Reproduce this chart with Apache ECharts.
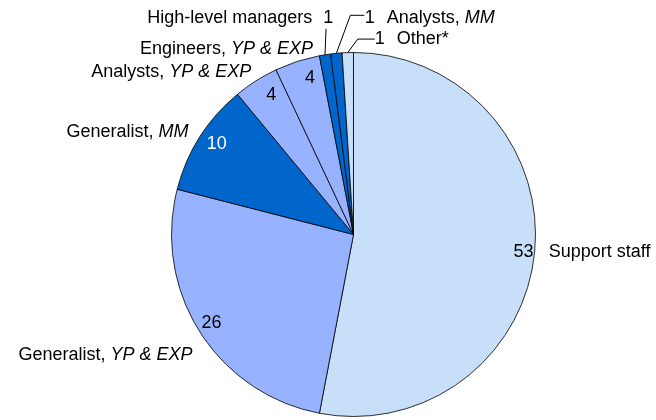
<!DOCTYPE html>
<html>
<head>
<meta charset="utf-8">
<script src="https://cdn.jsdelivr.net/npm/echarts@6/dist/echarts.min.js"></script>
<style>
  html, body { margin: 0; padding: 0; background: #ffffff; }
  #chart { width: 656px; height: 420px; }
</style>
</head>
<body>
<div id="chart"></div>
<script>
// Staff composition, share of headcount (%), clockwise from 12 o'clock
const categories = [
  'Support staff',
  'Generalist, YP & EXP',
  'Generalist, MM',
  'Analysts, YP & EXP',
  'Engineers, YP & EXP',
  'High-level managers',
  'Analysts, MM',
  'Other*'
];
const headcount = [53, 26, 10, 4, 4, 1, 1, 1];

// slice fills
const LIGHT = '#c7dff9', MID = '#97b2ff', DARK = '#0066cc';
const sliceColors = [LIGHT, MID, DARK, MID, MID, DARK, DARK, LIGHT];

const FONT = "'Liberation Sans', Arial, Helvetica, sans-serif";
const CENTER = [353.5, 234.5];
const RADIUS = 182;

// small nudges (px) of the outer name labels, index-aligned with categories
const nameNudge = [[1, 0], [5, 21], [1, -3], [6.5, -5.4], [26, -8.3], null, null, null];
// small nudges (px) of the inner value labels
const valueNudge = [[7.7, 2.5], [-4.4, 1.3], [1, -2.8], [5, -1.4], [7, -1.3], null, null, null];

// thin slices get a callout: text offset from the slice edge and elbow points of the leader
const callouts = {
  5: { side: 'left',  text: [8.3, -37],   elbow: [[1, -26]] },
  6: { side: 'right', text: [28.3, -35.3], elbow: [[14, -38], [28, -38]] },
  7: { side: 'right', text: [27, -13.6],  elbow: [[10, -13.5], [27, -13.5]] }
};

function nameRich(name) {
  const k = name.indexOf(', ');
  if (k < 0) return '{n|' + name + '}';
  return '{n|' + name.slice(0, k + 1) + ' }{i|' + name.slice(k + 2) + '}';
}

const pieData = categories.map((name, i) => ({
  name: name,
  value: headcount[i],
  itemStyle: { color: sliceColors[i] },
  labelLine: { show: callouts[i] != null }
}));

const valueData = categories.map((name, i) => ({
  name: name,
  value: headcount[i],
  label: { color: sliceColors[i] === DARK ? '#ffffff' : '#000000' }
}));

const richStyles = {
  n:  { fontFamily: FONT, fontSize: 18, color: '#000' },
  i:  { fontFamily: FONT, fontSize: 18, color: '#000', fontStyle: 'italic' },
  vl: { fontFamily: FONT, fontSize: 18, color: '#000', padding: [0, 0, 0, 11] },
  vr: { fontFamily: FONT, fontSize: 18, color: '#000', padding: [0, 12, 0, 0] }
};

function anchorOf(p) {
  const r = p.labelRect;
  const x = p.align === 'right' ? r.x + r.width : (p.align === 'center' ? r.x + r.width / 2 : r.x);
  return [x, r.y + r.height / 2];
}

const chart = echarts.init(document.getElementById('chart'), null, { renderer: 'canvas' });

chart.setOption({
  animation: false,
  backgroundColor: '#ffffff',
  series: [
    {
      // slices with outer category labels
      type: 'pie',
      center: CENTER,
      radius: [0, RADIUS],
      startAngle: 90,
      clockwise: true,
      avoidLabelOverlap: false,
      silent: true,
      itemStyle: { borderColor: '#000000', borderWidth: 0.8 },
      label: {
        show: true,
        position: 'outer',
        alignTo: 'none',
        distanceToLabelLine: 5,
        fontFamily: FONT,
        fontSize: 18,
        color: '#000',
        rich: richStyles,
        formatter: function (p) {
          const base = nameRich(p.name);
          const c = callouts[p.dataIndex];
          if (!c) return base;
          return c.side === 'left'
            ? base + '{vl|' + p.value + '}'
            : '{vr|' + p.value + '}' + base;
        }
      },
      labelLine: {
        show: false,
        length: 4,
        length2: 4,
        lineStyle: { color: '#000000', width: 1 }
      },
      labelLayout: function (p) {
        const c = callouts[p.dataIndex];
        if (c && p.labelLinePoints) {
          const p0 = p.labelLinePoints[0];
          const pts = [[p0[0], p0[1]]].concat(c.elbow.map(e => [p0[0] + e[0], p0[1] + e[1]]));
          return {
            x: p0[0] + c.text[0],
            y: p0[1] + c.text[1],
            align: c.side === 'left' ? 'right' : 'left',
            verticalAlign: 'middle',
            labelLinePoints: pts
          };
        }
        const n = nameNudge[p.dataIndex] || [0, 0];
        const a = anchorOf(p);
        return { x: a[0] + n[0], y: a[1] + n[1] };
      },
      emphasis: { disabled: true },
      data: pieData
    },
    {
      // value labels just inside the rim
      type: 'pie',
      center: CENTER,
      radius: [138, RADIUS],
      startAngle: 90,
      clockwise: true,
      avoidLabelOverlap: false,
      silent: true,
      itemStyle: { color: 'rgba(0,0,0,0)', borderWidth: 0 },
      label: {
        show: true,
        position: 'inside',
        fontFamily: FONT,
        fontSize: 18,
        formatter: function (p) {
          return callouts[p.dataIndex] ? '' : String(p.value);
        }
      },
      labelLine: { show: false },
      labelLayout: function (p) {
        const n = valueNudge[p.dataIndex] || [0, 0];
        const a = anchorOf(p);
        return { x: a[0] + n[0], y: a[1] + n[1] };
      },
      emphasis: { disabled: true },
      data: valueData
    }
  ]
});
</script>
</body>
</html>
